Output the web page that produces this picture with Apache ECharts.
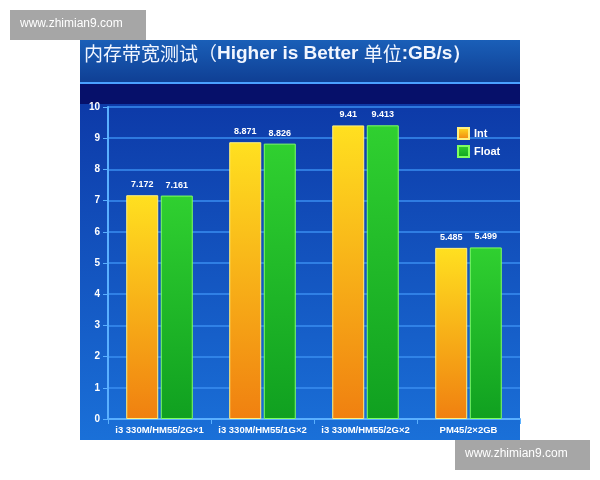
<!DOCTYPE html>
<html>
<head>
    <meta charset="utf-8" />
    <title>内存带宽测试</title>
    <script src="https://cdn.jsdelivr.net/npm/echarts@6/dist/echarts.min.js"></script>
    <style>
        body { margin: 0; background: #fff; }
        #echart { width: 600px; height: 480px; }
    </style>
</head>
<body>
    <div id="echart"></div>
</body>
</html>
<script>
    var categories = ['i3 330M/HM55/2G×1', 'i3 330M/HM55/1G×2', 'i3 330M/HM55/2G×2', 'PM45/2×2GB'];
    var intData = [7.172, 8.871, 9.41, 5.485];
    var floatData = [7.161, 8.826, 9.413, 5.499];
    var yTicks = [0, 10, 1];

    var myChart = echarts.init(document.getElementById('echart'));

    var lbl = { show: true, position: 'top', color: '#fff', fontSize: 9, fontWeight: 'bold', fontFamily: 'Liberation Sans', distance: 6 };

    var option = {
        backgroundColor: '#fff',
        graphic: [
            // 图片背景
            { type: 'rect', shape: { x: 80, y: 40, width: 440, height: 400 }, style: { fill: '#1560c8' }, z: -10 },
            { type: 'rect', shape: { x: 80, y: 40, width: 440, height: 42 },
              style: { fill: new echarts.graphic.LinearGradient(0, 0, 0, 1, [{ offset: 0, color: '#1a5fb8' }, { offset: 1, color: '#0f3f94' }]) }, z: -9 },
            { type: 'rect', shape: { x: 80, y: 82, width: 440, height: 2 }, style: { fill: '#4aa0ff' }, z: -9 },
            { type: 'rect', shape: { x: 80, y: 84, width: 440, height: 20 }, style: { fill: '#06106a' }, z: -9 },
            { type: 'rect', shape: { x: 80, y: 104, width: 440, height: 336 },
              style: { fill: new echarts.graphic.LinearGradient(0, 0, 0, 1, [{ offset: 0, color: '#0d3aa8' }, { offset: 1, color: '#1a70d8' }]) }, z: -9 },
            { type: 'text', left: 84, top: 44, style: {
                text: '{c|内存带宽测试（}{l|Higher is Better }{c|单位}{l|:GB/s）}',
                rich: {
                    c: { fill: '#f2f6ff', font: '19px "Noto Sans CJK SC", sans-serif' },
                    l: { fill: '#f2f6ff', font: 'bold 19px "Liberation Sans", sans-serif' }
                } } },
            // 水印
            { type: 'rect', shape: { x: 10, y: 10, width: 136, height: 30 }, style: { fill: '#a6a6a6' } },
            { type: 'text', left: 20, top: 18, style: { text: 'www.zhimian9.com', fill: '#fff', font: '12px "Liberation Sans"' } },
            { type: 'rect', shape: { x: 455, y: 440, width: 135, height: 30 }, style: { fill: '#a6a6a6' } },
            { type: 'text', left: 465, top: 448, style: { text: 'www.zhimian9.com', fill: '#fff', font: '12px "Liberation Sans"' } }
        ],
        legend: {
            data: ['Int', 'Float'],
            orient: 'vertical',
            left: 452, top: 122,
            icon: 'rect',
            itemWidth: 11, itemHeight: 11, itemGap: 5,
            textStyle: { color: '#fff', fontSize: 11, fontWeight: 'bold', fontFamily: 'Liberation Sans' }
        },
        grid: { left: 108, right: 80, top: 107, bottom: 61 },
        xAxis: {
            type: 'category',
            data: categories,
            axisLine: { lineStyle: { color: '#5ab0ff', width: 2 } },
            axisTick: { show: true, lineStyle: { color: '#5ab0ff' } },
            axisLabel: { color: '#fff', fontSize: 9.5, fontWeight: 'bold', fontFamily: 'Liberation Sans', margin: 6, interval: 0 }
        },
        yAxis: {
            type: 'value',
            min: yTicks[0], max: yTicks[1], interval: yTicks[2],
            axisLine: { show: true, lineStyle: { color: '#5ab0ff', width: 2 } },
            axisTick: { show: true, lineStyle: { color: '#5ab0ff' } },
            splitLine: { lineStyle: { color: '#3a8ef0', width: 1.5 } },
            axisLabel: { color: '#fff', fontSize: 10, fontWeight: 'bold', fontFamily: 'Liberation Sans', margin: 8 }
        },
        series: [{
            name: 'Int', type: 'bar', data: intData, barWidth: 32, barGap: '8%',
            itemStyle: {
                color: new echarts.graphic.LinearGradient(0, 0, 0, 1, [{ offset: 0, color: '#ffe020' }, { offset: 1, color: '#f08010' }]),
                borderColor: '#fff080', borderWidth: 1
            },
            label: lbl
        }, {
            name: 'Float', type: 'bar', data: floatData, barWidth: 32,
            itemStyle: {
                color: new echarts.graphic.LinearGradient(0, 0, 0, 1, [{ offset: 0, color: '#30d030' }, { offset: 1, color: '#10a020' }]),
                borderColor: '#80ff60', borderWidth: 1
            },
            label: lbl
        }]
    };
    myChart.setOption(option);
</script>
